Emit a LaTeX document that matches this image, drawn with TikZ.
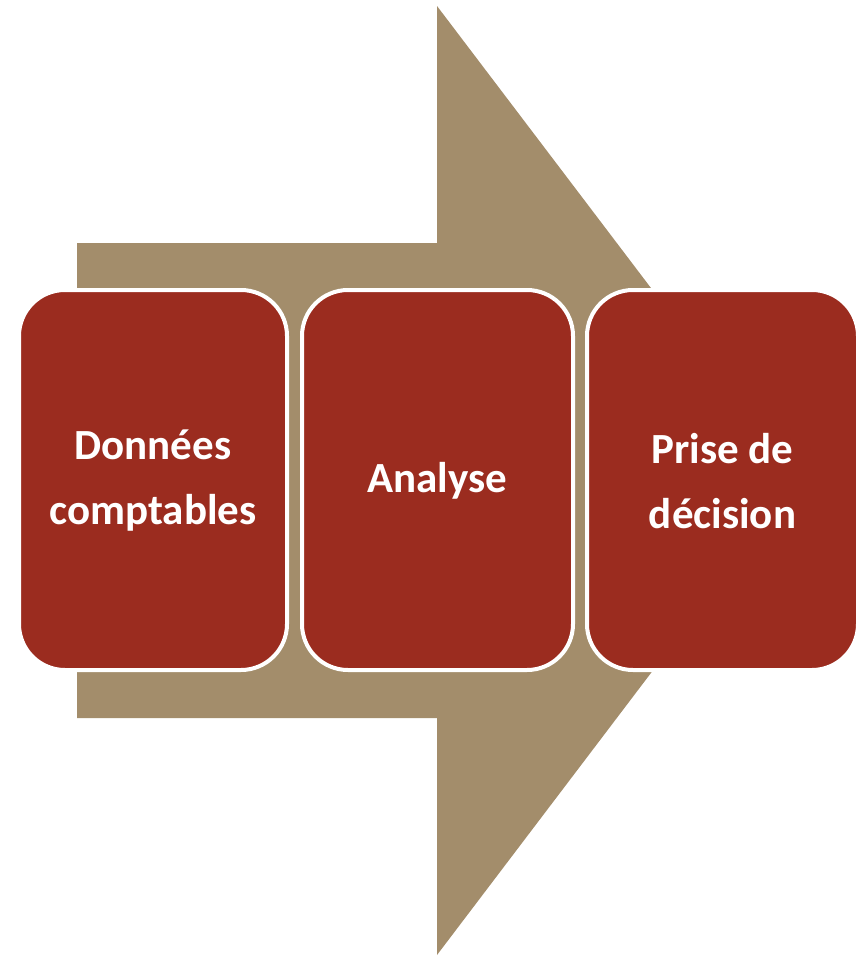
\documentclass[tikz,border=0pt]{standalone}
\usepackage{fontspec}
\setmainfont{Carlito}
\definecolor{tan}{HTML}{A38D6B}
\definecolor{brick}{HTML}{9B2C1F}
\begin{document}
\begin{tikzpicture}[x=1pt,y=-1pt,
  stepbox/.style={fill=brick,draw=white,line width=4pt,rounded corners=46pt},
  steptext/.style={text=white,align=center,font=\fontsize{43}{65}\selectfont\bfseries}]
\useasboundingbox (0,0) rectangle (864,956);
\fill[tan] (77,243) -- (437,243) -- (437,6) -- (797,480.5) -- (437,955) -- (437,718) -- (77,718) -- cycle;
\draw[stepbox] (19,290) rectangle (287,670);
\draw[stepbox] (302,290) rectangle (573,670);
\draw[stepbox] (587,290) rectangle (858,670);
\node[steptext] (a) at (153,481) {Données\\comptables};
\node[steptext] (b) at (437.5,481) {Analyse};
\node[steptext] (c) at (722.5,481) {Prise de\\décision};
\end{tikzpicture}
\end{document}
